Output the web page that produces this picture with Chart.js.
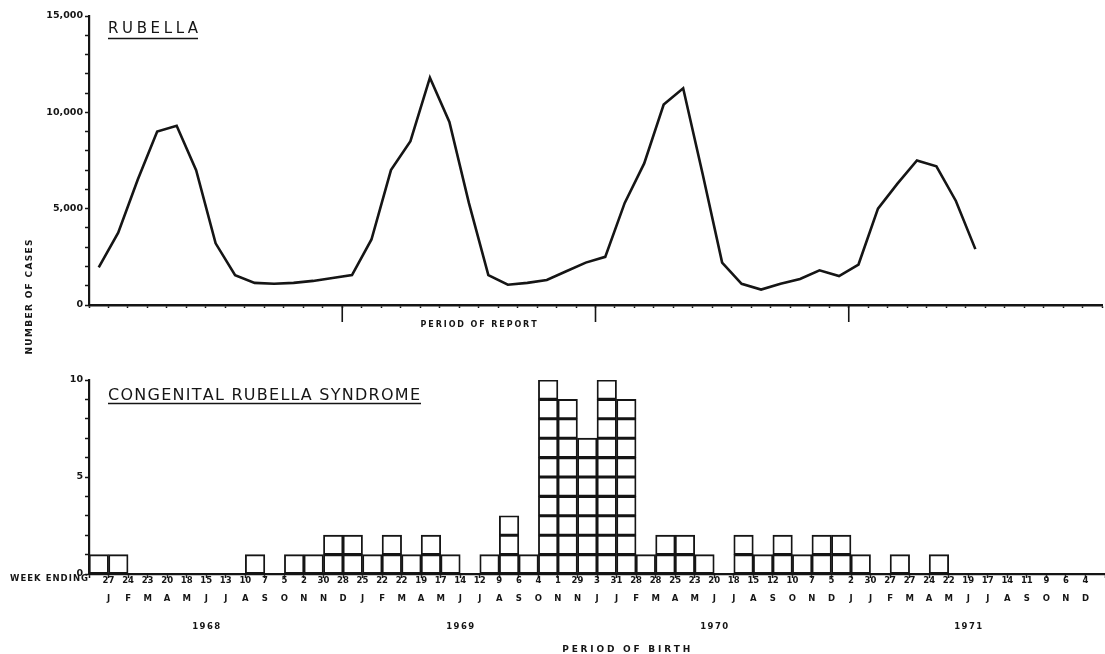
<!DOCTYPE html>
<html>
<head>
<meta charset="utf-8">
<title>Rubella and congenital rubella syndrome</title>
<script src="https://cdn.jsdelivr.net/npm/chart.js@4.4.1/dist/chart.umd.min.js"></script>
<style>
  html, body { margin: 0; padding: 0; background: #fff; }
  #wrap { position: relative; width: 1105px; height: 654px; overflow: hidden; }
  #top { position: absolute; left: 0; top: 0; }
  #bottom { position: absolute; left: 0; top: 340px; }
</style>
</head>
<body>
<div id="wrap">
  <canvas id="top" width="1105" height="365"></canvas>
  <canvas id="bottom" width="1105" height="314"></canvas>
</div>
<script>
// Reported rubella cases, one value per 4-week period starting Jan 1968
const rubellaCases = [
  1950, 3750, 6500, 9000, 9300, 7000, 3200, 1550, 1150, 1100, 1150, 1250, 1400,
  1550, 3400, 7000, 8500, 11800, 9500, 5300, 1550, 1050, 1150, 1300, 1750, 2200,
  2500, 5300, 7350, 10400, 11250, 6800, 2200, 1100, 800, 1100, 1350, 1800, 1500,
  2100, 5000, 6300, 7500, 7200, 5400, 2900
];

// Congenital rubella syndrome cases by 4-week period of birth
const crsCases = [
  1, 1, 0, 0, 0, 0, 0, 0, 1, 0, 1, 1, 2,
  2, 1, 2, 1, 2, 1, 0, 1, 3, 1, 10, 9, 7,
  10, 9, 1, 2, 2, 1, 0, 2, 1, 2, 1, 2, 2,
  1, 0, 1, 0, 1, 0, 0, 0, 0, 0, 0, 0, 0
];

// "week ending" day and month letter at the end of each period
const weekEnding = [
  '27', '24', '23', '20', '18', '15', '13', '10', '7', '5', '2', '30', '28',
  '25', '22', '22', '19', '17', '14', '12', '9', '6', '4', '1', '29', '3',
  '31', '28', '28', '25', '23', '20', '18', '15', '12', '10', '7', '5', '2',
  '30', '27', '27', '24', '22', '19', '17', '14', '11', '9', '6', '4', '1'
];
const months = [
  'J', 'F', 'M', 'A', 'M', 'J', 'J', 'A', 'S', 'O', 'N', 'N', 'D',
  'J', 'F', 'M', 'A', 'M', 'J', 'J', 'A', 'S', 'O', 'N', 'N', 'J',
  'J', 'F', 'M', 'A', 'M', 'J', 'J', 'A', 'S', 'O', 'N', 'D', 'J',
  'J', 'F', 'M', 'A', 'M', 'J', 'J', 'A', 'S', 'O', 'N', 'D', 'J'
];
const years = ['1968', '1969', '1970', '1971'];

const nPeriods = weekEnding.length;
const perYear = nPeriods / years.length;
const ink = '#151515';
const face = '"DejaVu Sans", sans-serif';

// draw text letter by letter so that it fills a given width
function spacedText(ctx, text, x, y, width, align) {
  const chars = text.split('');
  const plain = chars.reduce((s, c) => s + ctx.measureText(c).width, 0);
  const gap = chars.length > 1 ? (width - plain) / (chars.length - 1) : 0;
  let cx = align === 'center' ? x - width / 2 : x;
  ctx.textAlign = 'left';
  chars.forEach(c => {
    ctx.fillText(c, cx, y);
    cx += ctx.measureText(c).width + gap;
  });
}

function hline(ctx, x1, x2, y, w) {
  ctx.lineWidth = w;
  ctx.beginPath();
  ctx.moveTo(x1, y);
  ctx.lineTo(x2, y);
  ctx.stroke();
}

const topText = {
  id: 'topText',
  afterDraw(chart) {
    const { ctx, chartArea } = chart;
    const x = chart.scales.x;
    ctx.save();
    ctx.fillStyle = ink;
    ctx.strokeStyle = ink;

    ctx.font = '15px ' + face;
    ctx.textBaseline = 'alphabetic';
    spacedText(ctx, 'RUBELLA', 108, 33, 90);
    hline(ctx, 108, 198, 38.5, 1.5);

    // long marks between years
    ctx.lineWidth = 1.6;
    for (let k = perYear; k < nPeriods; k += perYear) {
      const px = x.getPixelForValue(k);
      ctx.beginPath();
      ctx.moveTo(px, chartArea.bottom);
      ctx.lineTo(px, chartArea.bottom + 17);
      ctx.stroke();
    }

    ctx.font = 'bold 8px ' + face;
    ctx.textBaseline = 'middle';
    spacedText(ctx, 'PERIOD OF REPORT', x.getPixelForValue(20), chartArea.bottom + 20, 116, 'center');

    ctx.translate(30, 297);
    ctx.rotate(-Math.PI / 2);
    ctx.font = 'bold 9px ' + face;
    spacedText(ctx, 'NUMBER OF CASES', 0, 0, 115, 'center');
    ctx.restore();
  }
};

const bottomText = {
  id: 'bottomText',
  afterDraw(chart) {
    const { ctx, chartArea } = chart;
    const x = chart.scales.x;
    ctx.save();
    ctx.fillStyle = ink;
    ctx.strokeStyle = ink;

    ctx.font = '16px ' + face;
    ctx.textBaseline = 'alphabetic';
    spacedText(ctx, 'CONGENITAL RUBELLA SYNDROME', 108, 60, 312);
    hline(ctx, 108, 421, 63.5, 1.5);

    ctx.textBaseline = 'middle';
    ctx.font = 'bold 8.5px ' + face;
    spacedText(ctx, 'WEEK ENDING', 10, chartArea.bottom + 5, 78);

    ctx.font = 'bold 8.5px ' + face;
    years.forEach((yr, i) => {
      spacedText(ctx, yr, x.getPixelForValue(i * perYear + 6), chartArea.bottom + 53, 28, 'center');
    });

    ctx.font = 'bold 9px ' + face;
    spacedText(ctx, 'PERIOD OF BIRTH', x.getPixelForValue(27.5), chartArea.bottom + 76, 128, 'center');
    ctx.restore();
  }
};

const tickFont = { family: face, size: 9.5, weight: 'bold' };

// top panel: reported cases
new Chart(document.getElementById('top'), {
  type: 'line',
  data: {
    datasets: [{
      data: rubellaCases.map((v, i) => ({ x: i + 0.5, y: v })),
      borderColor: ink,
      borderWidth: 2.6,
      pointRadius: 0,
      tension: 0,
      fill: false
    }]
  },
  options: {
    responsive: false,
    animation: false,
    layout: { padding: { top: 16, right: 0, bottom: 0, left: 0 } },
    plugins: { legend: { display: false }, tooltip: { enabled: false } },
    scales: {
      x: {
        type: 'linear',
        min: 0,
        max: nPeriods,
        ticks: { stepSize: 1, maxTicksLimit: 100, autoSkip: false, maxRotation: 0, callback: () => '' },
        grid: { drawOnChartArea: false, tickLength: 3, tickWidth: 1.5, tickColor: ink },
        border: { color: ink, width: 2.4 },
        afterFit: s => { s.height = 60; }
      },
      y: {
        min: 0,
        max: 15000,
        ticks: {
          stepSize: 1000,
          maxTicksLimit: 20,
          padding: 2,
          color: ink,
          font: tickFont,
          callback: v => (v % 5000 === 0 ? v.toLocaleString('en-US') : '')
        },
        grid: { drawOnChartArea: false, tickLength: 4, tickWidth: 1.5, tickColor: ink },
        border: { color: ink, width: 2.2 },
        afterFit: s => { s.width = 89; }
      }
    }
  },
  plugins: [topText]
});

// bottom panel: one stacked dataset per box level so each case is a square
const boxSets = [];
for (let level = 1; level <= Math.max(...crsCases); level++) {
  boxSets.push({
    data: crsCases.map((c, i) => ({ x: i + 0.5, y: c >= level ? 1 : null })),
    backgroundColor: 'rgba(0,0,0,0)',
    borderColor: ink,
    borderWidth: 1.2,
    borderSkipped: false,
    barPercentage: 1,
    categoryPercentage: 1
  });
}

new Chart(document.getElementById('bottom'), {
  type: 'bar',
  data: { datasets: boxSets },
  options: {
    responsive: false,
    animation: false,
    layout: { padding: { top: 40, right: 0, bottom: 0, left: 0 } },
    plugins: { legend: { display: false }, tooltip: { enabled: false } },
    scales: {
      x: {
        type: 'linear',
        min: 0,
        max: nPeriods,
        stacked: true,
        offset: false,
        ticks: {
          stepSize: 1,
          maxTicksLimit: 100,
          autoSkip: false,
          maxRotation: 0,
          padding: -6.5,
          color: ink,
          font: { family: face, size: 8.5, weight: 'bold', lineHeight: '18px' },
          callback: v => (v >= 1 && v < nPeriods ? [weekEnding[v - 1], months[v - 1]] : '')
        },
        grid: { offset: false, drawOnChartArea: false, tickLength: 4, tickWidth: 1.5, tickColor: ink },
        border: { color: ink, width: 2.2 },
        afterFit: s => { s.height = 80; }
      },
      y: {
        min: 0,
        max: 10,
        stacked: true,
        ticks: {
          stepSize: 1,
          padding: 2,
          color: ink,
          font: tickFont,
          callback: v => (v % 5 === 0 ? v : '')
        },
        grid: { drawOnChartArea: false, tickLength: 4, tickWidth: 1.5, tickColor: ink },
        border: { color: ink, width: 2.2 },
        afterFit: s => { s.width = 89; }
      }
    }
  },
  plugins: [bottomText]
});
</script>
</body>
</html>
